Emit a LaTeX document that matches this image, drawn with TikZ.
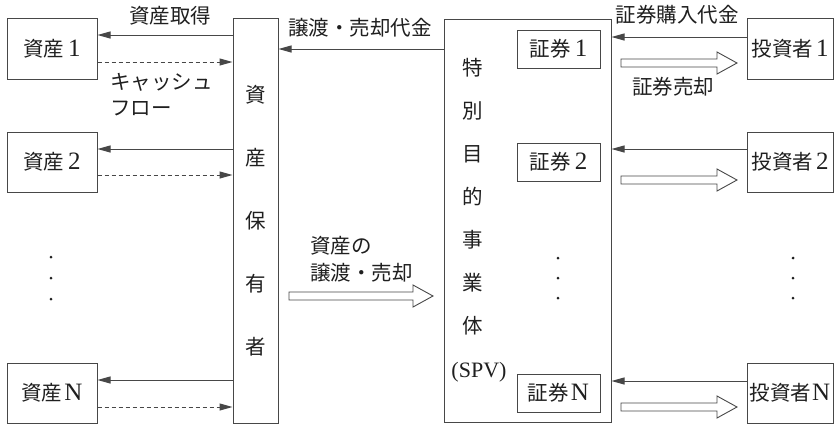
\documentclass[tikz,border=0pt]{standalone}
\usepackage{fontspec}
\newfontfamily\cjk{Noto Sans CJK JP}
\newfontfamily\lat{Liberation Serif}
\usetikzlibrary{arrows.meta,calc}
\definecolor{ln}{gray}{0.28}
\definecolor{tx}{gray}{0.12}
\newcommand\hollowarrow[2]{%
  \draw[hol] ($(#1)+(0,-4)$) -- ($(#2)+(-20,-4)$) -- ($(#2)+(-20,-11)$) -- (#2)
    -- ($(#2)+(-20,11)$) -- ($(#2)+(-20,4)$) -- ($(#1)+(0,4)$) -- cycle;}
\newcommand\dg[1]{{\lat\fontsize{25}{28}\selectfont #1}}
\begin{document}
\begin{tikzpicture}[x=1pt,y=-1pt,
  every node/.style={text=tx,font=\cjk\fontsize{20.5}{24}\selectfont},
  box/.style={draw=ln,line width=1pt,inner sep=0pt},
  lbl/.style={inner sep=0pt},
  arr/.style={draw=ln,line width=1pt,-{Triangle[length=13pt,width=7pt]}},
  darr/.style={arr,dash pattern=on 4pt off 3pt},
  hol/.style={draw=ln,line width=0.9pt,fill=white,line join=miter},
  dot/.style={circle,fill=tx,inner sep=0pt,minimum size=3pt}]
\useasboundingbox (0,0) rectangle (839,424);

% asset boxes
\node[box,minimum width=90,minimum height=61] (a1) at (52,48.5) {資産\hspace{4pt}\dg{1}};
\node[box,minimum width=90,minimum height=60] (a2) at (52,162) {資産\hspace{4pt}\dg{2}};
\node[box,minimum width=90,minimum height=60] (aN) at (52,393) {資産\hspace{2pt}\dg{N}};
\node[dot] (ad1) at (51,257) {};
\node[dot] (ad2) at (51,278) {};
\node[dot] (ad3) at (51,299) {};

% holder
\node[box,minimum width=45,minimum height=405] (hold) at (255.5,220.5) {};
\node[lbl,align=center,font=\cjk\fontsize{20.5}{63}\selectfont] (holdt) at (255.5,221) {資\\産\\保\\有\\者};

% SPV
\node[box,minimum width=167,minimum height=403] (spv) at (527.5,220.5) {};
\node[lbl,align=center,font=\cjk\fontsize{20.5}{43}\selectfont] (spvt) at (473,197) {特\\別\\目\\的\\事\\業\\体};
\node[lbl,font=\lat\fontsize{22}{25}\selectfont] (spvn) at (479,372) {(SPV)};

% securities
\node[box,minimum width=83,minimum height=38] (s1) at (558.5,49) {証券\hspace{4pt}\dg{1}};
\node[box,minimum width=83,minimum height=38] (s2) at (558.5,162) {証券\hspace{4pt}\dg{2}};
\node[box,minimum width=83,minimum height=38] (sN) at (558.5,393) {証券\hspace{2pt}\dg{N}};
\node[dot] (sd1) at (558,258) {};
\node[dot] (sd2) at (558,278) {};
\node[dot] (sd3) at (558,298) {};

% investors
\node[box,minimum width=86,minimum height=61] (i1) at (790,48.5) {投資者\hspace{3pt}\dg{1}};
\node[box,minimum width=86,minimum height=60] (i2) at (790,162) {投資者\hspace{3pt}\dg{2}};
\node[box,minimum width=86,minimum height=60] (iN) at (790,393) {投資者\hspace{1pt}\dg{N}};
\node[dot] (id1) at (793,258) {};
\node[dot] (id2) at (793,278) {};
\node[dot] (id3) at (793,298) {};

% asset arrows
\draw[arr] (hold.west |- 0,35) -- (a1.east |- 0,35);
\draw[darr] (a1.east |- 0,62) -- (hold.west |- 0,62);
\draw[arr] (hold.west |- 0,149) -- (a2.east |- 0,149);
\draw[darr] (a2.east |- 0,175) -- (hold.west |- 0,175);
\draw[arr] (hold.west |- 0,380) -- (aN.east |- 0,380);
\draw[darr] (aN.east |- 0,407) -- (hold.west |- 0,407);

% SPV -> holder
\draw[arr] (spv.west |- 0,49) -- (hold.east |- 0,49);

% investor arrows
\draw[arr] (i1.west |- 0,37) -- (spv.east |- 0,37);
\draw[arr] (i2.west |- 0,149) -- (spv.east |- 0,149);
\draw[arr] (iN.west |- 0,381) -- (spv.east |- 0,381);

% hollow arrows
\coordinate (m0) at (289,296); \coordinate (m1) at (433,296);
\coordinate (h1a) at (621,63); \coordinate (h1b) at (737,63);
\coordinate (h2a) at (621,180); \coordinate (h2b) at (737,180);
\coordinate (hNa) at (621,407); \coordinate (hNb) at (737,407);
\hollowarrow{m0}{m1}
\hollowarrow{h1a}{h1b}
\hollowarrow{h2a}{h2b}
\hollowarrow{hNa}{hNb}

% labels
\node[lbl] (l1) at (170,16) {資産取得};
\node[lbl,anchor=west] (l2) at (110,82) {キャッシュ};
\node[lbl,anchor=west] (l3) at (110,108) {フロー};
\node[lbl] (l4) at (360,28) {譲渡・売却代金};
\node[lbl] (l5) at (677,15) {証券購入代金};
\node[lbl] (l6) at (673,87) {証券売却};
\node[lbl,anchor=west] (l7) at (310,246) {資産の};
\node[lbl,anchor=west] (l8) at (310,273) {譲渡・売却};
\end{tikzpicture}
\end{document}
